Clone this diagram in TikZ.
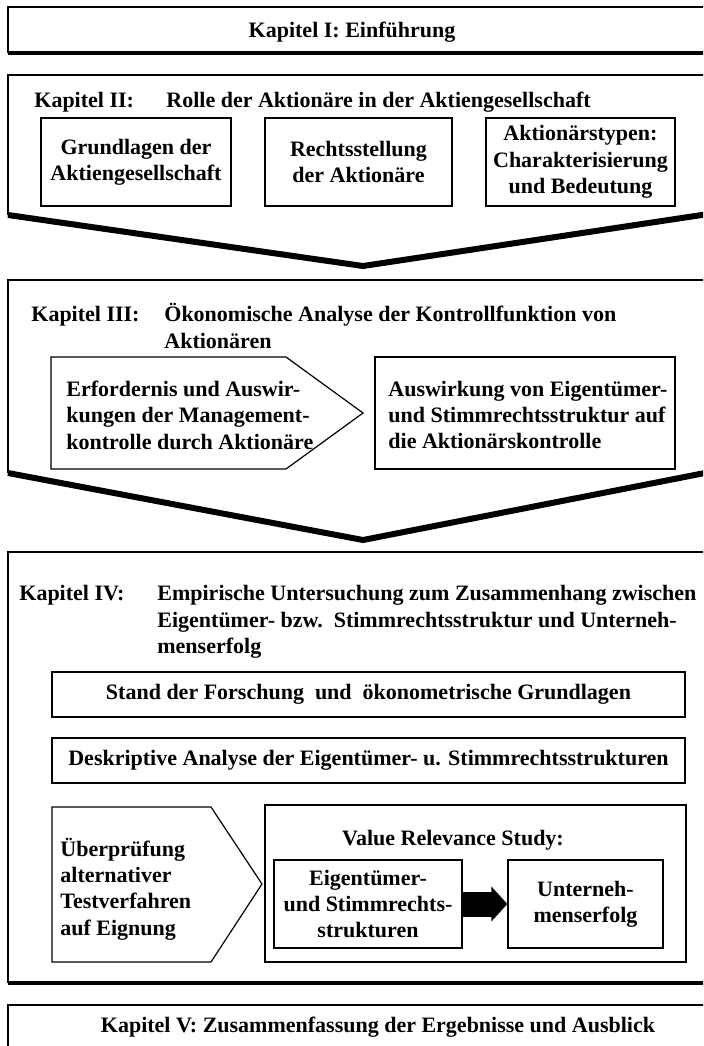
\documentclass[tikz,border=0pt]{standalone}
\usepackage{fontspec}
\setmainfont{Liberation Serif}
\usetikzlibrary{positioning, arrows.meta}

\tikzset{
  every node/.style={font=\bfseries\fontsize{11}{13.2}\selectfont, inner sep=0pt},
  frame/.style={draw, line width=0.6pt},
  shadow/.style={line width=2.2pt},
  fat shadow/.style={line width=3pt},
  box/.style={draw, line width=0.6pt, align=center},
  fat arrow/.style={line width=12.5pt, -{Triangle[length=8pt, width=17pt]}},
}

\begin{document}
\begin{tikzpicture}[x=0.5pt, y=-0.5pt, line join=miter]
\useasboundingbox (0,0) rectangle (703,1046);
\clip (0,0) rectangle (703,1046);

% Kapitel I
\draw[frame] (8,53) -- (8,7) -- (715,7) -- (715,53);
\draw[shadow] (8,53) -- (715,53);
\node (k1) at (352,32) {Kapitel I: Einführung};

% Kapitel II
\draw[frame] (8,215) -- (8,75) -- (715,75) -- (715,213);
\draw[fat shadow] (8,215) -- (363,266) -- (715,213);
\node[anchor=base west] (k2) at (34,107) {Kapitel II:};
\node[anchor=base west] (k2t) at (166,107) {Rolle der Aktionäre in der Aktiengesellschaft};

\node[box, minimum width=95pt, minimum height=44pt] (grund) at (136,162) {Grundlagen der\\Aktiengesellschaft};
\node[box, minimum width=93.5pt, minimum height=44pt] (recht) at (358.5,162) {Rechtsstellung\\der Aktionäre};
\node[box, minimum width=94.5pt, minimum height=44pt] (typen) at (580.5,162) {Aktionärstypen:\\Charakterisierung\\und Bedeutung};

% Kapitel III
\draw[frame] (8,473) -- (8,280) -- (715,280) -- (715,471);
\draw[fat shadow] (8,473) -- (363,540) -- (715,471);
\node[anchor=base west] (k3) at (31,321) {Kapitel III:};
\node[anchor=west, align=left] (k3t) at (164,326) {Ökonomische Analyse der Kontrollfunktion von\\Aktionären};

\draw[frame] (51,357) -- (286,357) -- (363,413) -- (286,469) -- (51,469) -- cycle;
\node[anchor=west, align=left] (erf) at (66,415) {Erfordernis und Auswir-\\kungen der Management-\\kontrolle durch Aktionäre};
\node[box, minimum width=150pt, minimum height=56pt] (auswbox) at (525,413) {};
\node[anchor=west, align=left] (ausw) at (388,415) {Auswirkung von Eigentümer-\\und Stimmrechtsstruktur auf\\die Aktionärskontrolle};

% Kapitel IV
\draw[frame] (8,983) -- (8,552) -- (715,552) -- (715,983);
\draw[shadow] (8,983) -- (715,983);
\node[anchor=base west] (k4) at (19,600) {Kapitel IV:};
\node[anchor=west, align=left] (k4t) at (157,622) {Empirische Untersuchung zum Zusammenhang zwischen\\Eigentümer- bzw.\ \ Stimmrechtsstruktur und Unterneh-\\menserfolg};

\node[box, minimum width=316.5pt, minimum height=22.5pt] (stand) at (368.5,694.5) {Stand der Forschung\ \ und\ \ ökonometrische Grundlagen};
\node[box, minimum width=316.5pt, minimum height=22.5pt] (deskr) at (368.5,760.5) {Deskriptive Analyse der Eigentümer- u. Stimmrechtsstrukturen};

\draw[frame] (52,807) -- (211,807) -- (262,884) -- (211,962) -- (52,962) -- cycle;
\node[anchor=west, align=left] (pruef) at (60,889) {Überprüfung\\alternativer\\Testverfahren\\auf Eignung};

\node[box, minimum width=210.5pt, minimum height=78.5pt] (value) at (475.5,883.5) {};
\node (valuet) at (453,840) {Value Relevance Study:};
\node[box, minimum width=94pt, minimum height=44pt] (struk) at (368,904) {Eigentümer-\\und Stimmrechts-\\strukturen};
\node[box, minimum width=77.5pt, minimum height=44pt] (erfolg) at (585.5,904) {Unterneh-\\menserfolg};
\draw[fat arrow] (struk) -- (erfolg);

% Kapitel V
\draw[frame] (8,1060) -- (8,1005) -- (715,1005) -- (715,1060);
\node (k5) at (378,1027) {Kapitel V: Zusammenfassung der Ergebnisse und Ausblick};
\end{tikzpicture}
\end{document}
